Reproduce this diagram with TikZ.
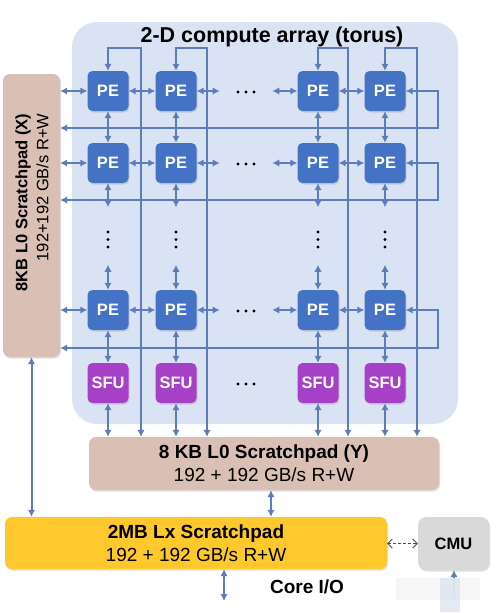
\documentclass[tikz,border=0pt]{standalone}
\usepackage{fontspec}
\setmainfont{Liberation Sans}
\usetikzlibrary{arrows.meta,shadows}
\definecolor{arrbg}{HTML}{DAE3F3}
\definecolor{peblue}{HTML}{4472C4}
\definecolor{sfupurple}{HTML}{A640C6}
\definecolor{linec}{HTML}{5B7DBD}
\definecolor{padtan}{HTML}{D9BFB4}
\definecolor{padgold}{HTML}{FFC92E}
\definecolor{cmugray}{HTML}{D9D9D9}
\begin{document}
\begin{tikzpicture}[x=1pt,y=-1pt,
  shad/.style={drop shadow={opacity=0.25,shadow xshift=1pt,shadow yshift=-1.5pt}},
  pebox/.style={rectangle, rounded corners=5pt, fill=peblue, minimum width=41pt, minimum height=40pt, inner sep=0pt, text=white, font=\fontsize{16.5}{18}\selectfont\bfseries, shad},
  sfubox/.style={pebox, fill=sfupurple, font=\fontsize{16.5}{18}\selectfont\bfseries},
  padbox/.style={rectangle, rounded corners=7pt, fill=padtan, inner sep=0pt, shad},
  conn/.style={draw=linec, line width=2pt, {Latex[length=7pt,width=7.5pt]}-{Latex[length=7pt,width=7.5pt]}},
  dotc/.style={fill=black, circle, inner sep=0pt, minimum size=3.4pt},
]
\useasboundingbox (0,0) rectangle (497,613);
\fill[white] (0,0) rectangle (497,613);
% array background
\fill[arrbg, rounded corners=25pt] (72,22) rectangle (458,424);
\node[font=\fontsize{21.5}{24}\selectfont\bfseries] (title) at (272,37) {2-D compute array (torus)};
% PEs and SFUs
\foreach \c/\x in {1/108,2/176,3/318,4/385} {
  \foreach \r/\y in {1/91,2/163,3/310} {
    \node[pebox] (pe\r\c) at (\x,\y) {PE};
  }
  \node[sfubox] (sfu\c) at (\x,383) {SFU};
}
% scratchpads
\node[padbox, minimum width=57pt, minimum height=283pt] (xpad) at (31.5,215.5) {};
\node[rotate=90, anchor=east, align=right, font=\fontsize{16.5}{21}\selectfont] (xpadtext) at (32,110) {\textbf{8KB L0 Scratchpad (X)}\\192+192 GB/s R+W};
\node[padbox, minimum width=350pt, minimum height=53pt, align=center, font=\fontsize{19}{23}\selectfont] (ypad) at (264,463.5) {\textbf{8 KB L0 Scratchpad (Y)}\\192 + 192 GB/s R+W};
\node[padbox, fill=padgold, minimum width=382pt, minimum height=52pt, align=center, font=\fontsize{19}{23}\selectfont] (lx) at (196,543) {\textbf{2MB Lx Scratchpad}\\192 + 192 GB/s R+W};
\node[padbox, fill=cmugray, rounded corners=8pt, minimum width=71pt, minimum height=53pt, font=\fontsize{16.5}{18}\selectfont\bfseries] (cmu) at (453.5,543.5) {CMU};
\node[font=\fontsize{19}{22}\selectfont\bfseries] (coreio) at (307,587) {Core I/O};
% dots
\foreach \y in {91,163,310,383} {
  \foreach \x in {238,246,254} { \node[dotc] at (\x,\y+1) {}; }
}
\foreach \x in {108,176,318,385} {
  \foreach \y in {232,239.5,247} { \node[dotc] at (\x,\y) {}; }
}
% horizontal connections
\foreach \r/\yw in {1/128,2/200,3/348} {
  \draw[conn] (xpad.east |- pe\r1) -- (pe\r1.west);
  \draw[conn] (pe\r1.east) -- (pe\r2.west);
  \draw[conn] (pe\r2.east) -- ++(23,0);
  \draw[conn] (pe\r3.west) -- ++(-25,0);
  \draw[conn] (pe\r3.east) -- (pe\r4.west);
  \coordinate (wr\r) at (438,\yw);
  \draw[conn] (pe\r4.east) -| (wr\r) -- (wr\r -| xpad.east);
}
% vertical connections
\foreach \c/\vx in {1/141,2/207,3/348,4/417} {
  \draw[conn] (pe1\c.south) -- (pe2\c.north);
  \draw[conn] (pe2\c.south) -- ++(0,24);
  \draw[conn] (pe3\c.north) -- ++(0,-25);
  \draw[conn] (pe3\c.south) -- (sfu\c.north);
  \draw[conn] (sfu\c.south) -- (sfu\c.south |- ypad.north);
  \coordinate (vt\c) at (\vx,48);
  \draw[conn] (pe1\c.north) |- (vt\c) -- (vt\c |- ypad.north);
}
% lower connections
\draw[conn] (xpad.south) -- (xpad.south |- lx.north);
\coordinate (yl) at (271,500);
\draw[conn] (yl |- ypad.south) -- (yl |- lx.north);
\coordinate (io) at (224,601);
\draw[conn] (io |- lx.south) -- (io);
\draw[black!70, line width=0.8pt, dash pattern=on 3pt off 2pt, {Straight Barb[length=4.5pt,width=9pt]}-{Straight Barb[length=4.5pt,width=9pt]}] (lx.east |- cmu.west) -- (cmu.west);
\coordinate (cm) at (454,598);
\draw[draw=linec, line width=2pt, -{Latex[length=7pt,width=7.5pt]}] (cm) -- (cm |- cmu.south);
% faint patch at bottom right
\fill[black!4, opacity=0.85] (396,578) rectangle (480,600);
\fill[linec!22!white, opacity=0.75] (440,578) rectangle (460,612);
\end{tikzpicture}
\end{document}
